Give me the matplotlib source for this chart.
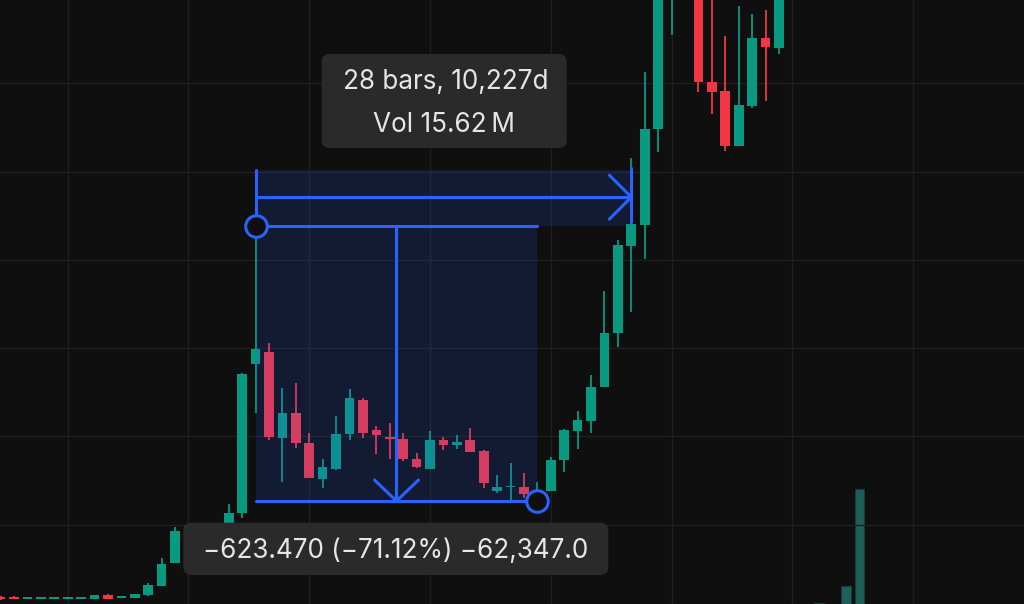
"""Candlestick chart with a date/price range measurement overlay (dark theme)."""

import matplotlib

matplotlib.use("Agg")
import matplotlib.pyplot as plt
import numpy as np
from matplotlib.patches import FancyBboxPatch, Rectangle
from matplotlib.transforms import IdentityTransform

BG = "#0f0f0f"
GRID = "#1f1f1f"
UP = "#089981"
DOWN = "#f23645"
BLUE = "#2962ff"
BOX = "#2a2a2a"
TXT = "#e6e6e6"

# OHLC per bar (price units), bars 0..64
opens = [36, 36, 32, 32, 32, 32, 32, 31.5, 40, 33.5, 33.5, 39.7, 61.2, 113.6,
         187, 196, 199, 198, 227, 563.2, 591.1, 395.5, 453.5, 384.2, 304, 326,
         404.6, 482.3, 414.3, 399.1, 393.2, 349.3, 325.3, 391, 381, 391, 367.4,
         276.8, 284.5, 285.9, 264.8, 276.1, 345.7, 412.7, 435.4, 511, 633.4,
         831.3, 878.9, 1095.7, 1420, 1560, 1480, 1202.9, 1182.5, 1058.5, 1148.5,
         1301.9, 1280.6, 1420, 1480, 1510, 1450, 1500, 1650]
highs = [37, 37, 35.5, 35.5, 35.5, 35.5, 35.5, 41, 43, 38.5, 43, 68.3, 125, 194.5,
         201, 202, 202, 246.7, 542.8, 876.6, 610.8, 508.8, 520.1, 408.2, 348.6, 446,
         506.5, 486.8, 423.4, 429.5, 406.8, 361.1, 412.7, 399.1, 403, 418.8, 369,
         312.4, 338.9, 316.9, 297.2, 353.8, 417.3, 457.4, 538.9, 728.6, 844.9,
         1030, 1225.5, 1440, 1540, 1580, 1500, 1400, 1307.8, 1375.8, 1356.3,
         1365.4, 1440, 1500, 1540, 1530, 1520, 1700, 2200]
lows = [30, 31, 31.5, 31.5, 31.5, 31.5, 31.5, 31, 31, 33, 33, 39, 60.5, 112,
        185, 194, 196, 195, 214.2, 452.2, 391.7, 297.2, 372.9, 305.5, 282.2, 323.7,
        391.7, 395.5, 359.3, 347.9, 344.8, 327.6, 325.3, 369, 371.9, 364.5, 282.2,
        270.9, 255.7, 259.6, 253.4, 276.1, 319.8, 371.3, 408.2, 511, 603.1,
        681, 801.1, 1045, 1309.4, 1450, 1179.5, 1130.4, 1047.2, 1058.5, 1144.6,
        1160.5, 1266.3, 1400, 1430, 1420, 1410, 1480, 1620]
closes = [31, 32, 35, 35, 35, 35, 35, 40.5, 31.5, 38, 42.6, 63.7, 110, 186,
          197, 200, 201, 227, 540.5, 597.9, 399.1, 452.2, 384.2, 306.2, 329.8, 405.2,
          486.2, 408.2, 402.3, 393.2, 349.3, 330.5, 391, 379.7, 387.1, 364.5, 293.5,
          285.9, 288.1, 269.3, 276.1, 346.3, 414.3, 437, 512.4, 634.8, 832.9,
          881.1, 1096.4, 1420, 1520, 1480, 1202.9, 1180.2, 1058.5, 1150.8, 1301.9,
          1281.5, 1420, 1480, 1510, 1450, 1500, 1650, 2100]
# volume in millions (only the last bars rise into view)
volumes = [0] * 61 + [0.12, 0.02, 1.55, 9.8]

# measurement tool anchors (bar index, price)
start_bar, start_price = 19, 876.6
end_bar, end_price = 40, 253.4
range_bar = 47
band_top = 1003
arrow_price = 942

label_top = ["28 bars, 10,227d", "Vol 15.62\u2009M"]
label_bottom = "\u2212623.470 (\u221271.12%) \u221262,347.0"

FONT = ["Inter", "DejaVu Sans"]

fig = plt.figure(figsize=(10.24, 6.04), dpi=100, facecolor=BG)
ax = fig.add_axes([0, 0, 1, 1])
axv = ax.twinx()
ax.set_zorder(1)
axv.set_zorder(0)
ax.patch.set_visible(False)
axv.patch.set_facecolor(BG)

x = np.arange(len(opens))
o = np.array(opens, float)
h = np.array(highs, float)
lo = np.array(lows, float)
c = np.array(closes, float)
up = c >= o
colors = np.where(up, UP, DOWN)

ax.set_xlim(-0.043, 76.26)
ax.set_ylim(20, 1388.7)
ax.set_xticks(range(5, 77, 9))
ax.set_yticks(range(200, 1400, 200))
ax.grid(True, color=GRID, lw=1)
ax.set_axisbelow(True)
ax.tick_params(length=0, labelbottom=False, labelleft=False)
for s in ax.spines.values():
    s.set_visible(False)

# volume
vcol = np.where(up, "#1e5f57", "#6b2a33")
axv.bar(x, volumes, width=0.72, color=vcol, edgecolor="#163d38", lw=0.8)
axv.set_ylim(0, 51.5)
axv.set_yticks([])
for s in axv.spines.values():
    s.set_visible(False)

# candles
ax.vlines(x, lo, h, colors=colors, lw=1.3, zorder=2)
body = np.maximum(np.abs(c - o), 3.0)
ax.bar(x, body, bottom=np.minimum(o, c), width=0.72, color=colors, zorder=3)

# measurement shading (drawn over candles)
ax.add_patch(Rectangle((start_bar, end_price), end_bar - start_bar, start_price - end_price,
                       facecolor=BLUE, alpha=0.15, lw=0, zorder=4))
ax.add_patch(Rectangle((start_bar, start_price), range_bar - start_bar, band_top - start_price,
                       facecolor=BLUE, alpha=0.15, lw=0, zorder=4))

lkw = dict(color=BLUE, lw=2.2, solid_capstyle="round", zorder=5)
mid = (start_bar + end_bar) / 2
ax.plot([start_bar, end_bar], [start_price, start_price], **lkw)
ax.plot([start_bar, end_bar], [end_price, end_price], **lkw)
ax.plot([mid, mid], [start_price, end_price], **lkw)
ax.plot([start_bar, start_bar], [start_price, band_top], **lkw)
ax.plot([range_bar, range_bar], [start_price + 8, band_top + 5], **lkw)
ax.plot([start_bar, range_bar], [arrow_price, arrow_price], **lkw)


def wing(xd, yd, dx, dy):
    tx, ty = ax.transData.transform((xd, yd))
    wx, wy = ax.transData.inverted().transform((tx + dx, ty + dy))
    ax.plot([wx, xd], [wy, yd], **lkw)


wing(range_bar, arrow_price, -22, 22)
wing(range_bar, arrow_price, -22, -22)
wing(mid, end_price, -22, 21)
wing(mid, end_price, 22, 21)

for bx, py in [(start_bar, start_price), (end_bar, end_price)]:
    ax.plot(bx, py, "o", ms=15.5, mfc=BG, mec=BLUE, mew=2.2, zorder=6)

# labels (pixel coordinates)
ident = IdentityTransform()
ax.add_patch(FancyBboxPatch((321.7, 456), 245, 94, boxstyle="round,pad=0,rounding_size=8",
                            facecolor=BOX, lw=0, transform=ident, zorder=7, clip_on=False))
ax.add_patch(FancyBboxPatch((183.3, 29), 425, 52.3, boxstyle="round,pad=0,rounding_size=8",
                            facecolor=BOX, lw=0, transform=ident, zorder=7, clip_on=False))
tkw = dict(color=TXT, fontsize=18.8, family=FONT, ha="center", va="baseline",
           transform=ident, zorder=8)
ax.text(445.5, 514.7, label_top[0], **tkw)
ax.text(444, 472.3, label_top[1], **tkw)
ax.text(395.8, 45.7, label_bottom, **tkw)

fig.savefig("out.png", dpi=100, facecolor=BG)
